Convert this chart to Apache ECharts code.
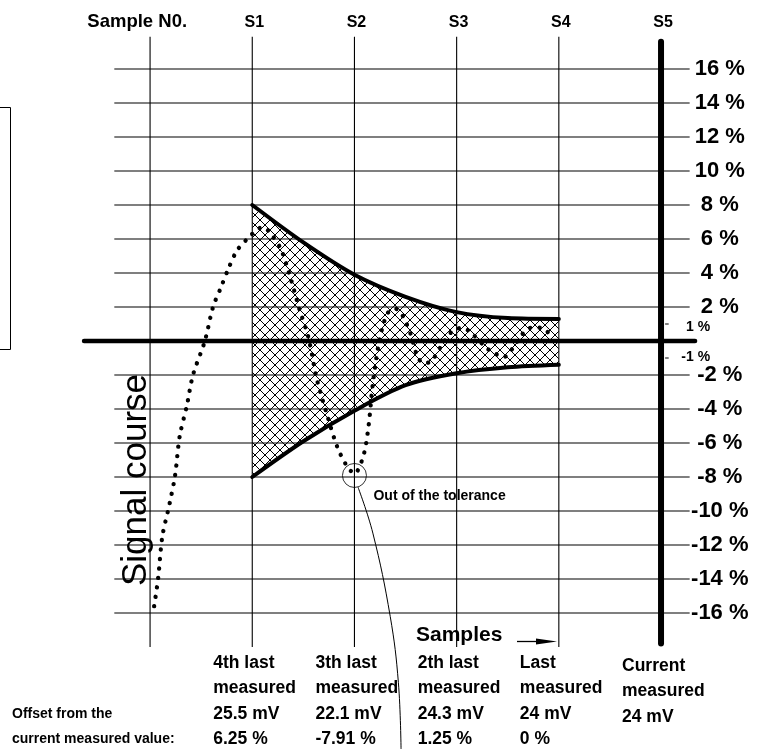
<!DOCTYPE html>
<html><head><meta charset="utf-8">
<script src="https://cdn.jsdelivr.net/npm/echarts@6/dist/echarts.min.js"></script>
<style>html,body{margin:0;padding:0;background:#fff}#c{width:761px;height:749px}</style>
</head><body><div id="c"></div>
<script>
// ---------------- data ----------------
const sampleNames = ['Sample N0.', 'S1', 'S2', 'S3', 'S4', 'S5'];
const samplePos = [0, 1, 2, 3, 4, 5];
const yTicks = [16, 14, 12, 10, 8, 6, 4, 2, -2, -4, -6, -8, -10, -12, -14, -16];
const yTickLabels = ['16 %', '14 %', '12 %', '10 %', '8 %', '6 %', '4 %', '2 %', '-2 %', '-4 %', '-6 %', '-8 %', '-10 %', '-12 %', '-14 %', '-16 %'];
const minorTicks = [1, -1];
const minorTickLabels = ['1 %', '-1 %'];
// tolerance envelope
const envX = [1, 1.5, 2, 2.5, 3, 3.5, 4];
const envUpper = [8, 5.8, 3.9, 2.6, 1.7, 1.35, 1.3];
const envLower = [-8, -5.9, -4.1, -2.6, -1.9, -1.55, -1.4];
// dotted signal course
const signalX = [0.04, 0.08, 0.12, 0.19, 0.245, 0.29, 0.36, 0.42, 0.536, 0.616, 0.69, 0.763, 0.848, 0.95, 1.01, 1.10, 1.17, 1.28, 1.38, 1.46, 1.55, 1.63, 1.74, 1.83, 1.92, 2.0, 2.09, 2.14, 2.18, 2.24, 2.32, 2.40, 2.47, 2.55, 2.61, 2.67, 2.75, 2.86, 2.97, 3.06, 3.14, 3.29, 3.38, 3.46, 3.54, 3.65, 3.74, 3.84, 3.92];
const signalY = [-15.6, -13.9, -11.5, -9.6, -7.9, -5.6, -3.8, -2.0, 0, 2.0, 3.1, 4.2, 5.3, 6.0, 6.35, 6.7, 6.4, 5.4, 3.6, 1.9, 0.2, -2.2, -4.5, -6.2, -7.3, -7.8, -6.7, -4.9, -2.5, -0.1, 1.6, 1.9, 1.5, 0.4, -0.8, -1.3, -1.2, -0.2, 0.65, 0.76, 0.5, -0.4, -0.75, -0.95, -0.5, 0.45, 0.8, 0.75, 0.35];
// out of tolerance marker and its leader line
const outSample = 2;
const outValue = -7.91;
const leaderX = [2.035, 2.18, 2.35, 2.43, 2.456];
const leaderY = [-8.6, -11.3, -16.2, -20.1, -24];
// column texts
const colTitle1 = ['4th last', '3th last', '2th last', 'Last', 'Current'];
const colTitle2 = ['measured', 'measured', 'measured', 'measured', 'measured'];
const colVoltage = ['25.5 mV', '22.1 mV', '24.3 mV', '24 mV', '24 mV'];
const colOffset = ['6.25 %', '-7.91 %', '1.25 %', '0 %', ''];
const offsetTitle = ['Offset from the', 'current measured value:'];

// ---------------- layout constants ----------------
const X_MIN = -1.4, X_MAX = 5.9, Y_MIN = -24, Y_MAX = 20;
const VTOP = 17.9, VBOT = -18;          // thin sample lines
const HLEFT = -0.35, HRIGHT = 5.28;      // horizontal grid lines
const ZLEFT = -0.646, ZRIGHT = 5.333;    // zero line
const FF = '"Liberation Sans", Arial, Helvetica, sans-serif';

function hatchCanvas() {
  const c = document.createElement('canvas');
  c.width = 10; c.height = 10;
  const g = c.getContext('2d');
  g.fillStyle = '#fff'; g.fillRect(0, 0, 10, 10);
  g.strokeStyle = '#000'; g.lineWidth = 1;
  g.beginPath();
  g.moveTo(-1, -1); g.lineTo(11, 11);
  g.moveTo(-1, 9); g.lineTo(1, 11);
  g.moveTo(9, -1); g.lineTo(11, 1);
  g.moveTo(11, -1); g.lineTo(-1, 11);
  g.moveTo(-1, 1); g.lineTo(1, -1);
  g.moveTo(9, 11); g.lineTo(11, 9);
  g.stroke();
  return c;
}
const hatch = { image: hatchCanvas(), repeat: 'repeat' };

function seg(api, a, b, w, cap) {
  const p1 = api.coord(a), p2 = api.coord(b);
  return { type: 'line', shape: { x1: p1[0], y1: p1[1], x2: p2[0], y2: p2[1] },
    style: { stroke: '#000', lineWidth: w, lineCap: cap || 'butt' } };
}
function txt(x, y, text, font, align, va, lh) {
  return { type: 'text', x: x, y: y,
    style: { text: text, font: font, fill: '#000', align: align, verticalAlign: va, lineHeight: lh || undefined } };
}

const chart = echarts.init(document.getElementById('c'));
const option = {
  animation: false,
  backgroundColor: '#fff',
  grid: { left: 7, right: 8, top: 1, bottom: 0 },
  xAxis: { type: 'value', min: X_MIN, max: X_MAX, show: false },
  yAxis: { type: 'value', min: Y_MIN, max: Y_MAX, show: false },
  graphic: [
    { type: 'rect', shape: { x: -5, y: 107.5, width: 15.5, height: 242 }, style: { fill: 'none', stroke: '#000', lineWidth: 1 } },
    { type: 'text', x: 136, y: 480, rotation: Math.PI / 2,
      style: { text: 'Signal course', font: '35px ' + FF, fill: '#000', align: 'center', verticalAlign: 'middle', textAlign: 'center', textVerticalAlign: 'middle' } },
    { type: 'text', x: 416, y: 635,
      style: { text: 'Samples', font: 'bold 21px ' + FF, fill: '#000', align: 'left', verticalAlign: 'middle', textAlign: 'left', textVerticalAlign: 'middle' } },
    { type: 'line', shape: { x1: 517, y1: 641.5, x2: 540, y2: 641.5 }, style: { stroke: '#000', lineWidth: 1.3 } },
    { type: 'polygon', shape: { points: [[536, 638.5], [557, 641.5], [536, 644.5]] }, style: { fill: '#000' } },
    { type: 'text', x: 12, y: 701.5,
      style: { text: offsetTitle.join('\n'), font: 'bold 14px ' + FF, fill: '#000', lineHeight: 25.3, align: 'left', verticalAlign: 'top', textAlign: 'left', textVerticalAlign: 'top' } }
  ],
  series: [
    { type: 'line', z: 2, data: envX.map((x, i) => [x, envUpper[i]]), smooth: 0.3, showSymbol: false,
      lineStyle: { color: '#000', width: 4, cap: 'round' }, areaStyle: { color: hatch, opacity: 1 } },
    { type: 'line', z: 2, data: envX.map((x, i) => [x, envLower[i]]), smooth: 0.3, showSymbol: false,
      lineStyle: { color: '#000', width: 4, cap: 'round' }, areaStyle: { color: hatch, opacity: 1 } },
    { type: 'custom', z: 3, data: yTicks.map(v => [v]),
      renderItem: (p, api) => seg(api, [HLEFT, yTicks[p.dataIndex]], [HRIGHT, yTicks[p.dataIndex]], 1.1) },
    { type: 'custom', z: 3, data: samplePos.map(v => [v]),
      renderItem: (p, api) => {
        const s = samplePos[p.dataIndex];
        return s === 5 ? seg(api, [s, VTOP - 0.3], [s, VBOT + 0.2], 6, 'round') : seg(api, [s, VTOP], [s, VBOT], 1.1);
      } },
    { type: 'custom', z: 3, data: minorTicks.map(v => [v]),
      renderItem: (p, api) => seg(api, [5.04, minorTicks[p.dataIndex]], [5.075, minorTicks[p.dataIndex]], 1) },
    { type: 'line', z: 4, data: [[ZLEFT, 0], [ZRIGHT, 0]], showSymbol: false,
      lineStyle: { color: '#000', width: 4.5, cap: 'round' } },
    { type: 'line', z: 5, data: signalX.map((x, i) => [x, signalY[i]]), smooth: 0.3, showSymbol: false,
      lineStyle: { color: '#000', width: 4.3, type: [0.1, 9.4], cap: 'round' } },
    { type: 'scatter', z: 5, data: [[outSample, outValue]], symbol: 'circle', symbolSize: 24,
      itemStyle: { color: 'rgba(0,0,0,0)', borderColor: '#000', borderWidth: 1 } },
    { type: 'line', z: 5, data: leaderX.map((x, i) => [x, leaderY[i]]), smooth: 0.4, showSymbol: false,
      lineStyle: { color: '#000', width: 1 } },
    // texts
    { type: 'custom', z: 6, data: samplePos.map(v => [v]),
      renderItem: (p, api) => {
        const i = p.dataIndex; const pt = api.coord([samplePos[i], 18.75]);
        return i === 0 ? txt(pt[0] + 37, pt[1], sampleNames[i], 'bold 18.5px ' + FF, 'right', 'middle')
                       : txt(pt[0] + 2, pt[1], sampleNames[i], 'bold 16px ' + FF, 'center', 'middle');
      } },
    { type: 'custom', z: 6, data: yTicks.map(v => [v]),
      renderItem: (p, api) => {
        const pt = api.coord([5.575, yTicks[p.dataIndex]]);
        return txt(pt[0], pt[1], yTickLabels[p.dataIndex], 'bold 22px ' + FF, 'center', 'middle');
      } },
    { type: 'custom', z: 6, data: minorTicks.map(v => [v]),
      renderItem: (p, api) => {
        const i = p.dataIndex; const pt = api.coord([5.48, minorTicks[i]]);
        return txt(pt[0], pt[1] + (i === 0 ? 3 : -1), minorTickLabels[i], 'bold 14px ' + FF, 'right', 'middle');
      } },
    { type: 'custom', z: 6, data: colTitle1.map((t, i) => [i + 1]),
      renderItem: (p, api) => {
        const i = p.dataIndex; const pt = api.coord([i + 1, VBOT]);
        const lines = [colTitle1[i], colTitle2[i], colVoltage[i], colOffset[i]].filter(Boolean).join('\n');
        return txt(pt[0] - 39, pt[1] + 3.5 + (i === 4 ? 3 : 0), lines, 'bold 17.5px ' + FF, 'left', 'top', 25.3);
      } },
    { type: 'custom', z: 6, data: [[outSample, outValue]],
      renderItem: (p, api) => {
        const pt = api.coord([outSample, outValue]);
        return txt(pt[0] + 19, pt[1] + 21, 'Out of the tolerance', 'bold 14px ' + FF, 'left', 'middle');
      } }
  ]
};
chart.setOption(option);
</script>
</body></html>
